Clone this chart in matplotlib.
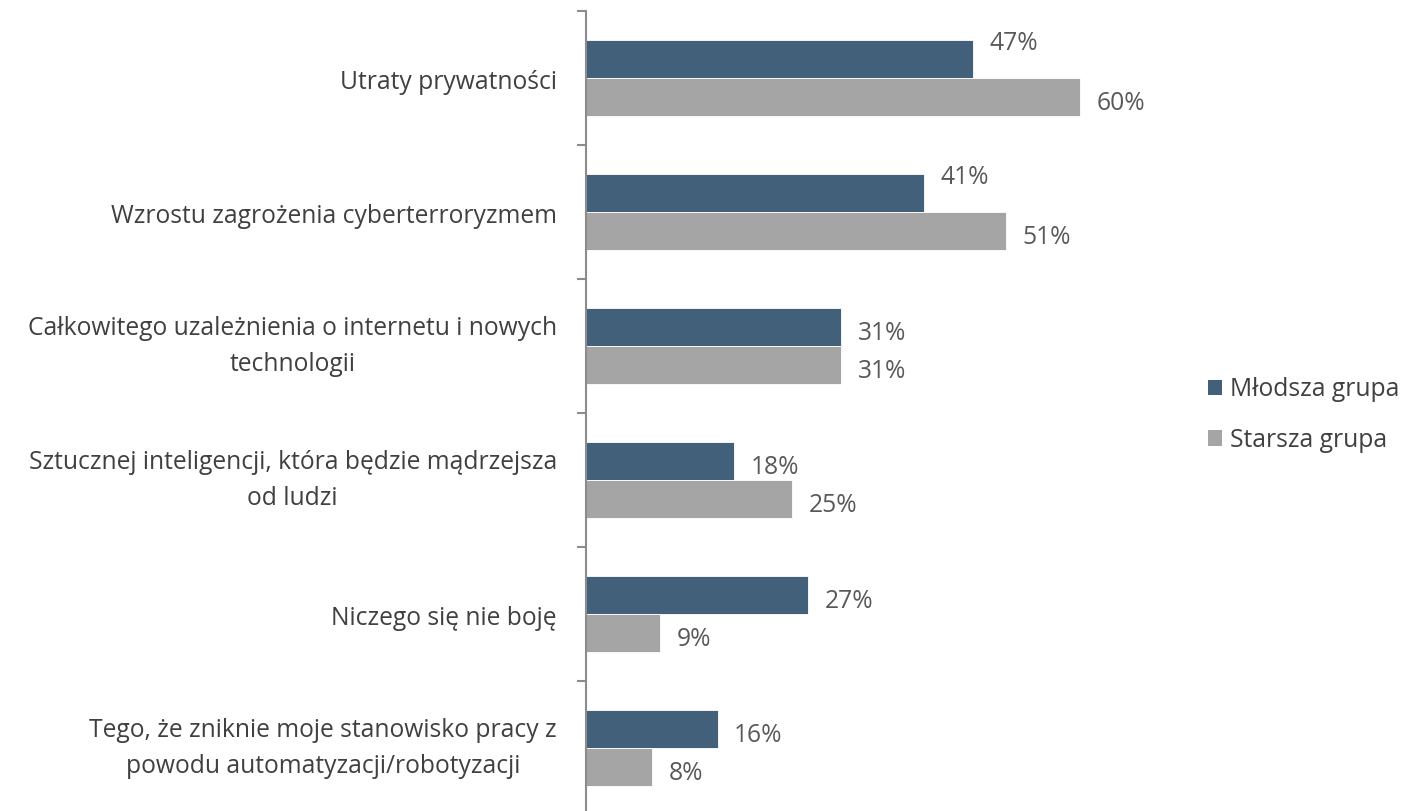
import matplotlib
matplotlib.use("Agg")
import matplotlib.pyplot as plt
from matplotlib.patches import Patch
import matplotlib.transforms as mtransforms
import numpy as np

plt.rcParams['font.family'] = ['Open Sans', 'DejaVu Sans']

categories = [
    "Utraty prywatności",
    "Wzrostu zagrożenia cyberterroryzmem",
    "Całkowitego uzależnienia o internetu i nowych\ntechnologii",
    "Sztucznej inteligencji, która będzie mądrzejsza\nod ludzi",
    "Niczego się nie boję",
    "Tego, że zniknie moje stanowisko pracy z\npowodu automatyzacji/robotyzacji",
]
series_names = ["Młodsza grupa", "Starsza grupa"]
mlodsza = [47, 41, 31, 18, 27, 16]
starsza = [60, 51, 31, 25, 9, 8]

# label vertical nudges (points, positive = up), style only
nudge_mlodsza = [15.5, 15.5, 0, 0, 0, 0]
nudge_starsza = [0, 0, 0, 0, 0, 0]

c_dark = "#43607A"
c_gray = "#A5A5A5"
txt_label = "#404040"
txt_value = "#595959"
axis_col = "#8C8C8C"

W, H = 1410, 811
fig = plt.figure(figsize=(W / 100, H / 100), dpi=100)
ax_left = 586 / W
xmax = 70
px_per = 8.233
ax_w = xmax * px_per / W
ax_top = 11
ax_bot = 815
ax = fig.add_axes([ax_left, 1 - ax_bot / H, ax_w, (ax_bot - ax_top) / H])

y = np.arange(len(categories))
bh = 0.28
ax.barh(y - bh / 2, mlodsza, height=bh, color=c_dark, edgecolor="white", linewidth=0.6, label=series_names[0])
ax.barh(y + bh / 2, starsza, height=bh, color=c_gray, edgecolor="white", linewidth=0.6, label=series_names[1])

fs = 17.7
base_dy = -4.5
for yi, v, n in zip(y, mlodsza, nudge_mlodsza):
    tr = mtransforms.offset_copy(ax.transData, fig=fig, x=0, y=base_dy + n, units="points")
    ax.text(v + 2.0, yi - bh / 2, f"{v}%", va="center", ha="left", fontsize=fs, color=txt_value, transform=tr)
for yi, v, n in zip(y, starsza, nudge_starsza):
    tr = mtransforms.offset_copy(ax.transData, fig=fig, x=0, y=base_dy + n, units="points")
    ax.text(v + 2.0, yi + bh / 2, f"{v}%", va="center", ha="left", fontsize=fs, color=txt_value, transform=tr)

ax.set_xlim(0, xmax)
ax.set_ylim(len(categories) - 0.5, -0.5)

# category labels as text, right-aligned next to the axis
label_tr_base = mtransforms.blended_transform_factory(ax.transAxes, ax.transData)
for yi, cat in zip(y, categories):
    dy = -0.5 if "\n" in cat else -3
    tr = mtransforms.offset_copy(label_tr_base, fig=fig, x=-21, y=dy, units="points")
    ax.text(0, yi, cat, transform=tr, ha="right", va="center", multialignment="center",
            linespacing=1.55, fontsize=fs, color=txt_label)

ax.set_yticks([])
ax.set_yticks(np.arange(-0.5, len(categories) + 0.5, 1), minor=True)
ax.tick_params(axis="y", which="minor", length=6.5, width=1.5, color=axis_col)
ax.set_xticks([])
for s in ["top", "right", "bottom"]:
    ax.spines[s].set_visible(False)
ax.spines["left"].set_color(axis_col)
ax.spines["left"].set_linewidth(1.5)

handles = [Patch(facecolor=c_dark, edgecolor="none"), Patch(facecolor=c_gray, edgecolor="none")]
leg = fig.legend(handles, series_names, loc="center left",
                 bbox_to_anchor=(1208 / W, 1 - 415 / H), frameon=False,
                 fontsize=fs, handlelength=0.57, handleheight=0.57, handletextpad=0.33,
                 labelspacing=1.03, borderpad=0, borderaxespad=0)
for t in leg.get_texts():
    t.set_color(txt_label)

fig.savefig("out.png", dpi=100)
